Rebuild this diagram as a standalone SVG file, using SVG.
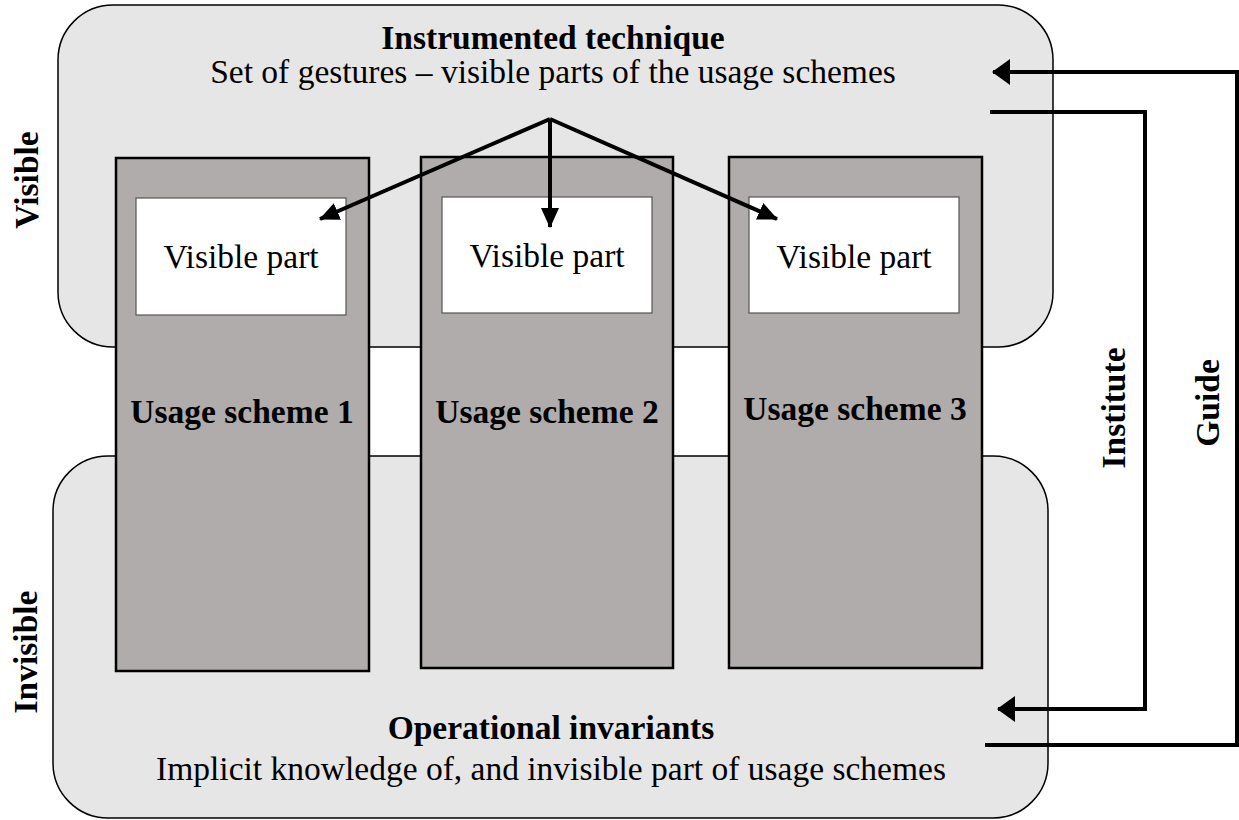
<svg xmlns="http://www.w3.org/2000/svg" width="1239" height="820" viewBox="0 0 1239 820">
<defs>
<style>
.t{font-family:"Liberation Serif","Times New Roman",serif;font-size:33.5px;fill:#000;text-anchor:middle}
.b{font-weight:bold}
.region{fill:#e6e6e6;stroke:#000;stroke-width:1.5}
.scheme{fill:#b0acab;stroke:#000;stroke-width:2.5}
.vis{fill:#fff;stroke:#555;stroke-width:1.2}
.conn{fill:none;stroke:#000;stroke-width:4}
</style>
<marker id="ah" markerUnits="userSpaceOnUse" markerWidth="20" markerHeight="20" viewBox="0 0 20 20" refX="19" refY="10" orient="auto">
<path d="M0,1 L20,10 L0,19 Z" fill="#000"/>
</marker>
<marker id="ahBig" markerUnits="userSpaceOnUse" markerWidth="18" markerHeight="26" viewBox="0 0 18 26" refX="17" refY="13" orient="auto">
<path d="M0,0 L18,13 L0,26 Z" fill="#000"/>
</marker>
</defs>
<rect width="1239" height="820" fill="#fff"/>
<g id="instrumented-technique">
<rect class="region" x="58" y="5" width="995" height="342" rx="55" ry="55"/>
<text class="t b" x="553" y="49">Instrumented technique</text>
<text class="t" x="553" y="83">Set of gestures – visible parts of the usage schemes</text>
</g>
<g id="operational-invariants">
<rect class="region" x="53" y="456" width="995" height="362" rx="55" ry="55"/>
<text class="t b" x="551" y="739">Operational invariants</text>
<text class="t" x="551" y="780">Implicit knowledge of, and invisible part of usage schemes</text>
</g>
<g id="usage-scheme-1">
<rect class="scheme" x="116" y="158" width="253" height="513"/>
<rect class="vis" x="136" y="198" width="210" height="117"/>
<text class="t" x="241" y="268">Visible part</text>
<text class="t b" x="242" y="423">Usage scheme 1</text>
</g>
<g id="usage-scheme-2">
<rect class="scheme" x="421" y="157" width="252" height="511"/>
<rect class="vis" x="442" y="197" width="210" height="116"/>
<text class="t" x="547" y="267">Visible part</text>
<text class="t b" x="547" y="423">Usage scheme 2</text>
</g>
<g id="usage-scheme-3">
<rect class="scheme" x="729" y="157" width="253" height="511"/>
<rect class="vis" x="749" y="197" width="210" height="116"/>
<text class="t" x="854" y="268">Visible part</text>
<text class="t b" x="855" y="420">Usage scheme 3</text>
</g>
<g id="side-labels">
<text class="t b" transform="translate(38,180) rotate(-90)">Visible</text>
<text class="t b" transform="translate(37,652) rotate(-90)">Invisible</text>
<text class="t b" transform="translate(1125,408) rotate(-90)">Institute</text>
<text class="t b" transform="translate(1219,403) rotate(-90)">Guide</text>
</g>
<g id="connectors">
<line class="conn" x1="550" y1="119" x2="320" y2="219" marker-end="url(#ah)"/>
<line class="conn" x1="550" y1="119" x2="550" y2="227" marker-end="url(#ah)"/>
<line class="conn" x1="550" y1="119" x2="777" y2="219" marker-end="url(#ah)"/>
<polyline class="conn" points="990,112 1145,112 1145,709 998,709" marker-end="url(#ahBig)"/>
<polyline class="conn" points="985,745 1237,745 1237,72 993,72" marker-end="url(#ahBig)"/>
</g>
</svg>
